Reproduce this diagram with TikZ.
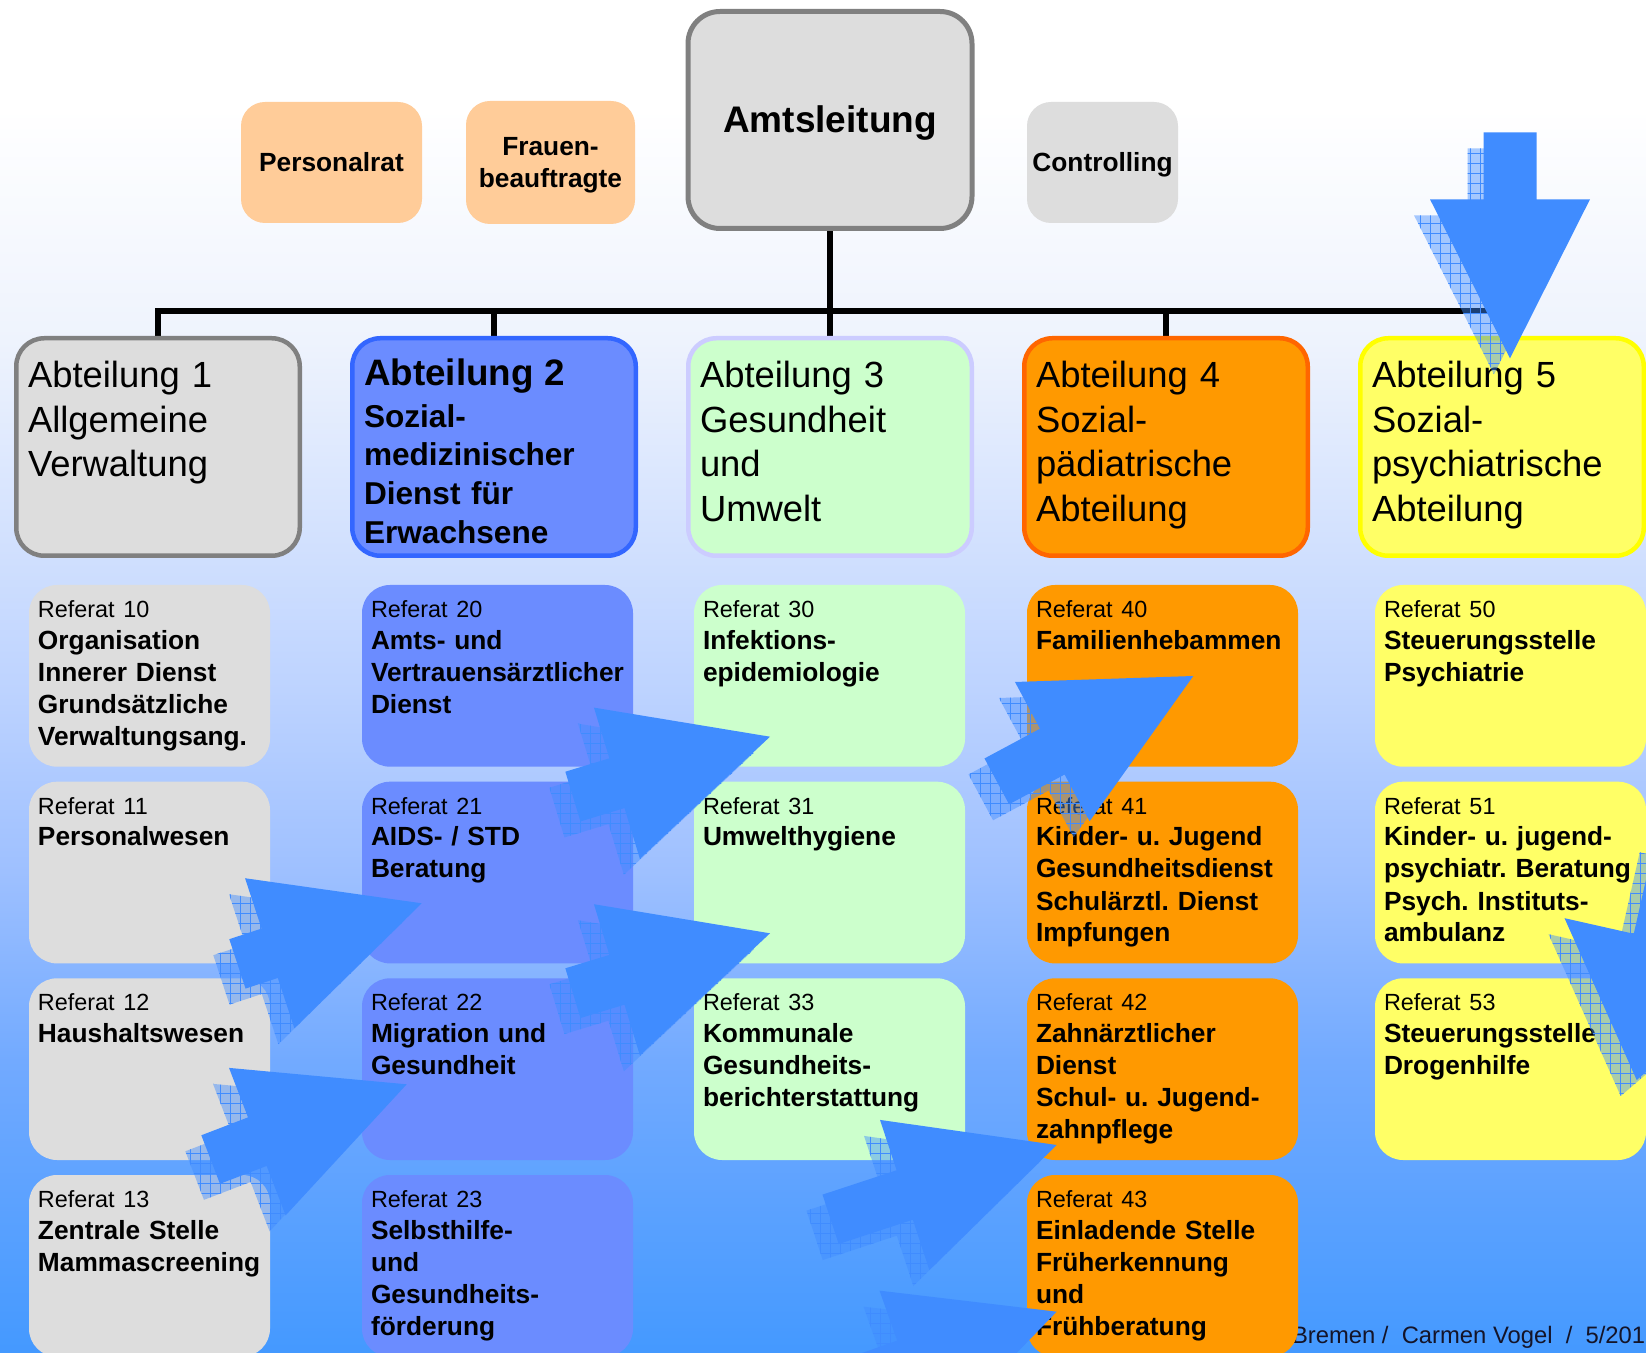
\documentclass[tikz,border=0pt]{standalone}
\usepackage{fontspec}
\setmainfont{Liberation Sans}
\frenchspacing
\usetikzlibrary{calc,patterns.meta}
\definecolor{arrowblue}{RGB}{64,140,255}
\definecolor{bgA}{RGB}{238,243,253}
\definecolor{bgB}{RGB}{189,211,255}
\definecolor{bgC}{RGB}{158,192,255}
\definecolor{bgD}{RGB}{114,170,255}
\definecolor{bgE}{RGB}{68,153,255}
\definecolor{gfill}{HTML}{DDDDDD}
\definecolor{gborder}{HTML}{808080}
\definecolor{bfill}{HTML}{6B8CFF}
\definecolor{bborder}{HTML}{3366FF}
\definecolor{grfill}{HTML}{CCFFCC}
\definecolor{grborder}{HTML}{CCCCFF}
\definecolor{ofill}{HTML}{FF9900}
\definecolor{oborder}{HTML}{FF6600}
\definecolor{yfill}{HTML}{FFFF66}
\definecolor{yborder}{HTML}{FFFF00}
\definecolor{peach}{HTML}{FFCC99}
\definecolor{footcol}{RGB}{20,20,40}
\pgfdeclarelayer{shadelayer}
\pgfdeclarelayer{linelayer}
\pgfsetlayers{shadelayer,linelayer,main}
\pgfdeclareverticalshading{bgshade}{100bp}{color(0bp)=(bgE); color(25bp)=(bgE); color(35.8bp)=(bgD); color(42.8bp)=(bgC); color(49.5bp)=(bgB); color(62.4bp)=(bgA); color(71bp)=(white); color(100bp)=(white)}
\tikzset{
  every node/.style={inner sep=0pt, outer sep=0pt},
  topbox/.style={rounded corners=12pt, minimum height=60.5pt},
  toptxt/.style={font=\fontsize{13.15pt}{16pt}\selectfont\bfseries},
  amtbox/.style={draw=gborder, fill=gfill, line width=2.5pt, rounded corners=16pt, minimum width=142pt, minimum height=108.5pt},
  abtbox/.style={line width=2.25pt, rounded corners=14pt, minimum width=141.75pt, minimum height=108.75pt},
  abttxt/.style={anchor=base west, text width=135pt, align=left, font=\fontsize{18.2pt}{22.25pt}\selectfont},
  refbox/.style={rounded corners=14pt, minimum height=90.85pt},
  refnarrow/.style={refbox, minimum width=120.5pt},
  refwide/.style={refbox, minimum width=135.5pt},
  reftxt/.style={anchor=base west, text width=140pt, align=left, font=\fontsize{13.15pt}{16pt}\selectfont\bfseries},
  tree/.style={line width=2.8pt, line join=miter, black},
  shadowfill/.style={fill=arrowblue, fill opacity=0.45},
  shadowgridH/.style={pattern={Lines[distance=5pt,angle=0,line width=0.4pt]}, pattern color=arrowblue},
  shadowgridV/.style={pattern={Lines[distance=5pt,angle=90,line width=0.4pt]}, pattern color=arrowblue},
  arrowbody/.style={fill=arrowblue}
}
\newcommand\refitem[2]{{\mdseries\fontsize{11.7pt}{16pt}\selectfont Referat #1}\\#2}
\newcommand\arrowpath[4]{(0,0) -- (-#1,#2/2) -- (-#1,#4/2) -- (-#1-#3,#4/2) -- (-#1-#3,-#4/2) -- (-#1,-#4/2) -- (-#1,-#2/2) -- cycle}
% #1 tip, #2 rotation, #3 head length, #4 head width, #5 shaft length, #6 shaft width
\newcommand\blockarrow[6]{%
  \begin{scope}[shift={($(#1)+(-16,16)$)},rotate=#2]
    \fill[shadowfill] \arrowpath{#3}{#4}{#5}{#6};
    \fill[shadowgridH] \arrowpath{#3}{#4}{#5}{#6};
    \fill[shadowgridV] \arrowpath{#3}{#4}{#5}{#6};
  \end{scope}
  \begin{scope}[shift={(#1)},rotate=#2]
    \fill[arrowbody] \arrowpath{#3}{#4}{#5}{#6};
  \end{scope}}
\begin{document}
\begin{tikzpicture}[x=0.5pt,y=-0.5pt]
\useasboundingbox (0,0) rectangle (1646,1353);
\begin{pgfonlayer}{shadelayer}
\shade[shading=bgshade] (0,0) rectangle (1646,1353);
\end{pgfonlayer}
\clip (0,0) rectangle (1646,1353);

% top row
\node[amtbox] (amt) at (830,120) {};
\node[anchor=base, font=\fontsize{18.5pt}{22pt}\selectfont\bfseries] (amtt) at (830,133) {Amtsleitung};
\node[topbox, fill=peach, minimum width=90.5pt] (pr) at (331.5,162.5) {};
\node[toptxt, anchor=base] (prt) at (331.5,171.7) {Personalrat};
\node[topbox, fill=peach, minimum width=84.5pt, minimum height=61.5pt] (fb) at (550.5,162.5) {};
\node[toptxt, anchor=base, text width=84pt, align=center] (fbt) at (550.5,155.7) {Frauen-\\beauftragte};
\node[topbox, fill=gfill, minimum width=75.5pt] (ct) at (1102.5,162.5) {};
\node[toptxt, anchor=base] (ctt) at (1102.5,171.7) {Controlling};

% Abteilungen
\node[abtbox, draw=gborder, fill=gfill] (abt1) at (158,447) {};
\node[abtbox, draw=bborder, fill=bfill] (abt2) at (494,447) {};
\node[abtbox, draw=grborder, fill=grfill] (abt3) at (830,447) {};
\node[abtbox, draw=oborder, fill=ofill] (abt4) at (1166,447) {};
\node[abtbox, draw=yborder, fill=yfill] (abt5) at (1502,447) {};
\node[abttxt] (abt1t) at (28,388) {Abteilung 1\\Allgemeine\\Verwaltung};
\node[abttxt, font=\fontsize{15.8pt}{19.4pt}\selectfont\bfseries] (abt2t) at (364,386) {{\fontsize{18.4pt}{20pt}\selectfont Abteilung 2}\\[1.2pt]Sozial-\\medizinischer\\Dienst für\\Erwachsene};
\node[abttxt] (abt3t) at (700,388) {Abteilung 3\\Gesundheit\\und\\Umwelt};
\node[abttxt] (abt4t) at (1036,388) {Abteilung 4\\Sozial-\\pädiatrische\\Abteilung};
\node[abttxt] (abt5t) at (1372,388) {Abteilung 5\\Sozial-\\psychiatrische\\Abteilung};

% tree
\begin{pgfonlayer}{linelayer}
\coordinate (bus) at (830,311);
\draw[tree] (amt.south) -- (bus);
\foreach \n in {abt1,abt2,abt3,abt4,abt5} \draw[tree] (bus) -| (\n.north);
\node[anchor=base west, text=footcol, font=\fontsize{11.9pt}{14pt}\selectfont] (foot) at (1292,1343.3) {Bremen /~~Carmen Vogel~~/~~5/201};
\end{pgfonlayer}

% column 1
\node[refnarrow, fill=gfill] (r10) at (149.5,675.85) {};
\node[refnarrow, fill=gfill] (r11) at (149.5,872.55) {};
\node[refnarrow, fill=gfill] (r12) at (149.5,1069.15) {};
\node[refnarrow, fill=gfill] (r13) at (149.5,1265.85) {};
\node[reftxt] (r10t) at (38,617.3) {\refitem{10}{Organisation\\Innerer Dienst\\Grundsätzliche\\Verwaltungsang.}};
\node[reftxt] (r11t) at (38,814) {\refitem{11}{Personalwesen}};
\node[reftxt] (r12t) at (38,1010.6) {\refitem{12}{Haushaltswesen}};
\node[reftxt] (r13t) at (38,1207.3) {\refitem{13}{Zentrale Stelle\\Mammascreening}};
% column 2
\node[refwide, fill=bfill] (r20) at (497.5,675.85) {};
\node[refwide, fill=bfill] (r21) at (497.5,872.55) {};
\node[refwide, fill=bfill] (r22) at (497.5,1069.15) {};
\node[refwide, fill=bfill] (r23) at (497.5,1265.85) {};
\node[reftxt] (r20t) at (371,617.3) {\refitem{20}{Amts- und\\Vertrauensärztlicher\\Dienst}};
\node[reftxt] (r21t) at (371,814) {\refitem{21}{AIDS- / STD\\Beratung}};
\node[reftxt] (r22t) at (371,1010.6) {\refitem{22}{Migration und\\Gesundheit}};
\node[reftxt] (r23t) at (371,1207.3) {\refitem{23}{Selbsthilfe-\\und\\Gesundheits-\\förderung}};
% column 3
\node[refwide, fill=grfill] (r30) at (829.5,675.85) {};
\node[refwide, fill=grfill] (r31) at (829.5,872.55) {};
\node[refwide, fill=grfill] (r33) at (829.5,1069.15) {};
\node[reftxt] (r30t) at (703,617.3) {\refitem{30}{Infektions-\\epidemiologie}};
\node[reftxt] (r31t) at (703,814) {\refitem{31}{Umwelthygiene}};
\node[reftxt] (r33t) at (703,1010.6) {\refitem{33}{Kommunale\\Gesundheits-\\berichterstattung}};
% column 4
\node[refwide, fill=ofill] (r40) at (1162.5,675.85) {};
\node[refwide, fill=ofill] (r41) at (1162.5,872.55) {};
\node[refwide, fill=ofill] (r42) at (1162.5,1069.15) {};
\node[refwide, fill=ofill] (r43) at (1162.5,1265.85) {};
\node[reftxt] (r40t) at (1036,617.3) {\refitem{40}{Familienhebammen}};
\node[reftxt] (r41t) at (1036,814) {\refitem{41}{Kinder- u. Jugend\\Gesundheitsdienst\\Schulärztl. Dienst\\Impfungen}};
\node[reftxt] (r42t) at (1036,1010.6) {\refitem{42}{Zahnärztlicher\\Dienst\\Schul- u. Jugend-\\zahnpflege}};
\node[reftxt] (r43t) at (1036,1207.3) {\refitem{43}{Einladende Stelle\\Früherkennung\\und\\Frühberatung}};
% column 5
\node[refwide, fill=yfill] (r50) at (1510.5,675.85) {};
\node[refwide, fill=yfill] (r51) at (1510.5,872.55) {};
\node[refwide, fill=yfill] (r53) at (1510.5,1069.15) {};
\node[reftxt] (r50t) at (1384,617.3) {\refitem{50}{Steuerungsstelle\\Psychiatrie}};
\node[reftxt] (r51t) at (1384,814) {\refitem{51}{Kinder- u. jugend-\\psychiatr. Beratung\\Psych. Instituts-\\ambulanz}};
\node[reftxt] (r53t) at (1384,1010.6) {\refitem{53}{Steuerungsstelle\\Drogenhilfe}};

% block arrows
\coordinate (tipA) at (421.7,903.3);
\coordinate (tipB) at (770,736.7);
\coordinate (tipC) at (770,933.3);
\coordinate (tipD) at (406.7,1084.3);
\coordinate (tipE) at (1193.3,676);
\coordinate (tipF) at (1056.7,1145);
\coordinate (tipG) at (1056.7,1311.7);
\coordinate (tipH) at (1636.7,1080);
\coordinate (tipI) at (1510,358.3);
\blockarrow{tipA}{18.2}{160}{158}{34}{52}
\blockarrow{tipB}{16.9}{160}{158}{46}{52}
\blockarrow{tipC}{16.9}{160}{158}{46}{52}
\blockarrow{tipD}{21}{160}{158}{50}{52}
\blockarrow{tipE}{28.2}{160}{158}{63}{52}
\blockarrow{tipF}{18.2}{160}{158}{78}{52}
\blockarrow{tipG}{19.5}{160}{158}{78}{52}
\blockarrow{tipH}{-102.7}{142}{212}{100}{70}
\blockarrow{tipI}{-90}{159}{160}{67}{53}
\end{tikzpicture}
\end{document}
